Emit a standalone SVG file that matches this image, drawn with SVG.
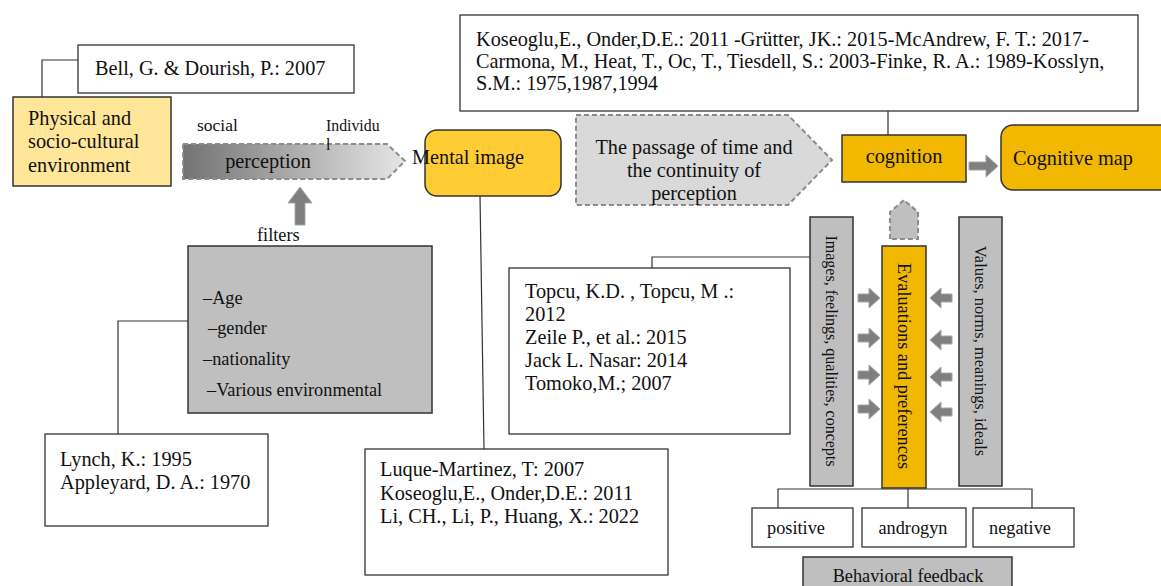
<svg xmlns="http://www.w3.org/2000/svg" width="1161" height="586" viewBox="0 0 1161 586">
<style>
text{font-family:"Liberation Serif","Times New Roman",serif;fill:#111}
.box{fill:#fff;stroke:#333;stroke-width:1.3}
.gray{fill:#bfbfbf;stroke:#333;stroke-width:1.5}
.gold{fill:#f2b800;stroke:#333;stroke-width:1.5}
.dash{stroke:#8c8c8c;stroke-width:2;stroke-dasharray:5 3}
.ln{fill:none;stroke:#333;stroke-width:1.2}
.ar{fill:#7f7f7f;stroke:#a6a6a6;stroke-width:1}
.t20{font-size:20.3px}
.t18{font-size:18.3px}
.t16{font-size:16px}
</style>
<defs>
<linearGradient id="pg" x1="0" x2="1" y1="0" y2="0">
<stop offset="0" stop-color="#737373"/>
<stop offset="1" stop-color="#e6e6e6"/>
</linearGradient>
<path id="ra" d="M0,-4 L11,-4 L11,-10 L22,0 L11,10 L11,4 L0,4 Z" fill="#7f7f7f" stroke="#a6a6a6" stroke-width="1"/>
</defs>
<rect width="1161" height="586" fill="#fff"/>
<g id="connectors">
<polyline class="ln" points="78,60 42,60 42,97"/>
<polyline class="ln" points="188,321 118,321 118,434"/>
<line class="ln" x1="480" y1="196" x2="484" y2="449"/>
<line class="ln" x1="888" y1="111" x2="888" y2="135"/>
<polyline class="ln" points="652,268 652,257 810,257"/>
<polyline class="ln" points="778,510 778,489 1032,489 1032,508"/>
<line class="ln" x1="908" y1="488" x2="908" y2="508"/>
<path class="ar" d="M295,225 L295,203 L288,203 L300,187 L312,203 L305,203 L305,225 Z"/>
<path class="ar" d="M969,162 L986,162 L986,155 L998,166 L986,177 L986,170 L969,170 Z"/>
<path d="M890,239 L890,212 L904,200 L918,212 L918,239 Z" fill="#bfbfbf" class="dash"/>
<use href="#ra" x="858" y="298"/>
<use href="#ra" x="858" y="338"/>
<use href="#ra" x="858" y="375"/>
<use href="#ra" x="858" y="409"/>
<use href="#ra" transform="translate(952,298) scale(-1,1)"/>
<use href="#ra" transform="translate(952,340) scale(-1,1)"/>
<use href="#ra" transform="translate(952,377) scale(-1,1)"/>
<use href="#ra" transform="translate(952,412) scale(-1,1)"/>
</g>
<g id="bell">
<rect class="box" x="78" y="45" width="276" height="48"/>
<text class="t20" x="95" y="75">Bell, G. &amp; Dourish, P.: 2007</text>
</g>
<g id="physical">
<rect x="13" y="97" width="158" height="89" fill="#ffe699" stroke="#333" stroke-width="1.5"/>
<text class="t20" x="28" y="125">Physical and</text>
<text class="t20" x="28" y="148">socio-cultural</text>
<text class="t20" x="28" y="172">environment</text>
</g>
<g id="perception">
<path d="M183,144 L387,144 L405,161 L387,179 L183,179 Z" fill="url(#pg)" class="dash"/>
<text class="t20" x="268" y="168" text-anchor="middle">perception</text>
<text x="197" y="131" style="font-size:17.5px">social</text>
<text x="326" y="131" style="font-size:15.8px">Individu</text>
<text x="326" y="150" style="font-size:15.8px">l</text>
</g>
<g id="filters-label">
<text class="t18" x="257" y="241">filters</text>
</g>
<g id="filters">
<rect class="gray" x="188" y="246" width="244" height="167"/>
<text class="t18" x="203" y="304">–Age</text>
<text class="t18" x="208" y="334">–gender</text>
<text class="t18" x="203" y="365">–nationality</text>
<text class="t18" x="207" y="396">–Various environmental</text>
</g>
<g id="lynch">
<rect class="box" x="45" y="434" width="223" height="92"/>
<text class="t20" x="60" y="466">Lynch, K.: 1995</text>
<text class="t20" x="60" y="489">Appleyard, D. A.: 1970</text>
</g>
<g id="mental">
<rect x="425" y="130" width="136" height="66" rx="12" fill="#ffcd33" stroke="#333" stroke-width="1.5"/>
<text class="t20" x="412" y="164">Mental image</text>
</g>
<g id="luque">
<rect class="box" x="365" y="449" width="303" height="126"/>
<text class="t20" x="380" y="476">Luque-Martinez, T: 2007</text>
<text class="t20" x="380" y="500">Koseoglu,E., Onder,D.E.: 2011</text>
<text class="t20" x="380" y="523">Li, CH., Li, P., Huang, X.: 2022</text>
</g>
<g id="passage">
<path d="M576,115 L788,115 L832,160 L788,205 L576,205 Z" fill="#d9d9d9" class="dash"/>
<text class="t20" x="694" y="154" text-anchor="middle">The passage of time and</text>
<text class="t20" x="694" y="177" text-anchor="middle">the continuity of</text>
<text class="t20" x="694" y="200" text-anchor="middle">perception</text>
</g>
<g id="koseoglu">
<rect class="box" x="460" y="15" width="678" height="96"/>
<text class="t20" x="476" y="46">Koseoglu,E., Onder,D.E.: 2011 -Grütter, JK.: 2015-McAndrew, F. T.: 2017-</text>
<text class="t20" x="476" y="68">Carmona, M., Heat, T., Oc, T., Tiesdell, S.: 2003-Finke, R. A.: 1989-Kosslyn,</text>
<text class="t20" x="476" y="90">S.M.: 1975,1987,1994</text>
</g>
<g id="cognition">
<rect class="gold" x="842" y="135" width="124" height="47"/>
<text class="t20" x="904" y="163" text-anchor="middle">cognition</text>
</g>
<g id="cogmap">
<rect class="gold" x="1001" y="125" width="175" height="65" rx="12"/>
<text class="t20" x="1013" y="165">Cognitive map</text>
</g>
<g id="topcu">
<rect class="box" x="509" y="268" width="281" height="166"/>
<text class="t20" x="525" y="298">Topcu, K.D. , Topcu, M .:</text>
<text class="t20" x="525" y="321">2012</text>
<text class="t20" x="525" y="344">Zeile P., et al.: 2015</text>
<text class="t20" x="525" y="367">Jack L. Nasar: 2014</text>
<text class="t20" x="525" y="390">Tomoko,M.; 2007</text>
</g>
<g id="images">
<rect class="gray" x="810" y="217" width="43" height="269"/>
<text class="t16" transform="translate(826,351) rotate(90)" text-anchor="middle">Images, feelings, qualities, concepts</text>
</g>
<g id="evaluations">
<rect class="gold" x="882" y="246" width="44" height="242"/>
<text class="t18" transform="translate(898,366) rotate(90)" text-anchor="middle">Evaluations and preferences</text>
</g>
<g id="values">
<rect class="gray" x="959" y="217" width="43" height="269"/>
<text class="t16" transform="translate(975,351) rotate(90)" text-anchor="middle" style="font-size:16.4px">Values, norms, meanings, ideals</text>
</g>
<g id="positive">
<rect class="box" x="752" y="508" width="101" height="39"/>
<text class="t18" x="796" y="534" text-anchor="middle">positive</text>
</g>
<g id="androgyn">
<rect class="box" x="862" y="508" width="104" height="39"/>
<text class="t18" x="913" y="534" text-anchor="middle">androgyn</text>
</g>
<g id="negative">
<rect class="box" x="973" y="508" width="101" height="39"/>
<text class="t18" x="1020" y="534" text-anchor="middle">negative</text>
</g>
<g id="feedback">
<rect class="gray" x="803" y="557" width="209" height="40"/>
<text class="t18" x="908" y="582" text-anchor="middle">Behavioral feedback</text>
</g>
</svg>
